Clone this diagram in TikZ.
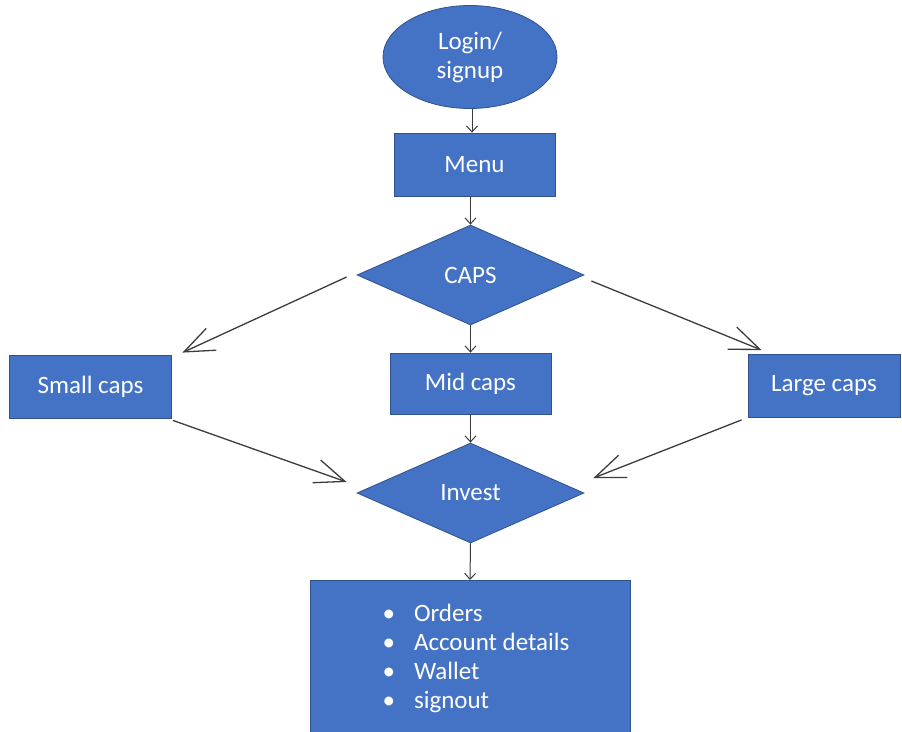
\documentclass[tikz,border=0pt]{standalone}
\usepackage{fontspec}
\setmainfont{Carlito}
\usetikzlibrary{shapes.geometric,arrows.meta}
\definecolor{boxblue}{HTML}{4472C4}
\definecolor{edgeblue}{HTML}{2F528F}
\definecolor{linegray}{HTML}{3C3C3C}
\begin{document}
\begin{tikzpicture}[x=1pt,y=-1pt,
  every node/.style={font=\fontsize{25}{29}\selectfont, text=white},
  blk/.style={draw=edgeblue, line width=0.8pt, fill=boxblue, inner sep=0pt},
  rbox/.style={blk, rectangle, minimum width=161pt, minimum height=63pt},
  dbox/.style={blk, diamond, shape aspect=2.27, minimum width=227pt, minimum height=100pt},
  bigarr/.style={draw=linegray, line width=1.3pt, -{Straight Barb[length=30pt,width=24pt]}},
  smallarr/.style={draw=linegray, line width=1pt, -{Straight Barb[length=6pt,width=11pt]}}]
\clip (0,0) rectangle (902,731);
\fill[white] (0,0) rectangle (902,731);

\node[blk, ellipse, minimum width=174pt, minimum height=103pt, align=center] (login) at (470,57) {Login/\\signup};
\node[rbox] (menu) at (474.5,164.5) {Menu};
\node[dbox] (caps) at (470.5,275) {CAPS};
\node[rbox, minimum width=162pt] (small) at (90.5,386.5) {Small caps};
\node[rbox, minimum height=61pt] (mid) at (470.5,383.5) {Mid caps};
\node[rbox, minimum width=152pt] (large) at (824,386) {Large caps};
\node[dbox] (invest) at (470.5,493) {Invest};
\node[blk, rectangle, minimum width=320pt, minimum height=180pt, anchor=north] (acts) at (470,580)
  {\hspace{12pt}\begin{tabular}{@{}l@{\hspace{19pt}}l@{}}
   \textbullet & Orders\\
   \textbullet & Account details\\
   \textbullet & Wallet\\
   \textbullet & signout\\[22pt]
   \end{tabular}};

\draw[smallarr] ([xshift=2pt]login.south) -- ([xshift=2pt]login.south |- menu.north);
\draw[smallarr] (menu.south -| caps.north) -- (caps.north);
\draw[bigarr] ([xshift=-10pt,yshift=-2pt]caps.west) -- ([xshift=10.5pt,yshift=2pt]small.north east);
\draw[bigarr] ([xshift=7pt,yshift=-6pt]caps.east) -- ([xshift=14pt,yshift=4pt]large.north west);
\draw[smallarr] (caps.south) -- (mid.north);
\draw[bigarr] ([xshift=1pt,yshift=-2pt]small.south east) -- ([xshift=-10pt,yshift=11pt]invest.west);
\draw[bigarr] ([xshift=-6pt,yshift=-2pt]large.south west) -- ([xshift=9pt,yshift=15pt]invest.east);
\draw[smallarr] (mid.south) -- (invest.north);
\draw[smallarr] (invest.south) -- (acts.north);
\end{tikzpicture}
\end{document}
